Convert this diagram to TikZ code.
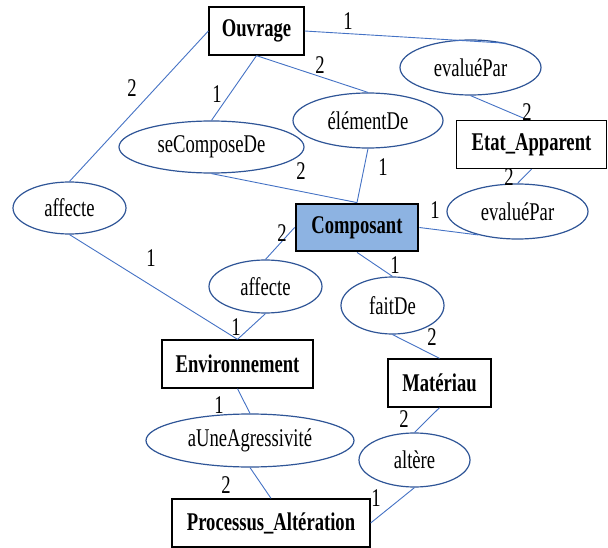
\documentclass[tikz,border=0pt]{standalone}
\usepackage{fontspec}
\setmainfont{Liberation Serif}[FakeStretch=0.73]
\usetikzlibrary{shapes.geometric}

\definecolor{linkblue}{HTML}{4472C4}
\definecolor{ovalblue}{HTML}{2F5597}
\definecolor{keyfill}{HTML}{8DB3E2}

\tikzset{
  entity/.style={draw=black, line width=1.3pt, fill=white, inner sep=0pt,
    minimum height=48pt, font=\fontsize{25.5}{29}\selectfont\bfseries},
  keyentity/.style={entity, line width=2.8pt, fill=keyfill},
  relation/.style={ellipse, draw=ovalblue, line width=1.2pt, fill=white, inner sep=0pt,
    font=\fontsize{25.5}{29}\selectfont},
  link/.style={draw=linkblue, line width=0.9pt},
  card/.style={inner sep=0pt, font=\fontsize{25.5}{29}\selectfont}
}

\begin{document}
\begin{tikzpicture}[x=1pt, y=-1pt]
\useasboundingbox (0,0) rectangle (608,548);

% entities
\node[entity, minimum width=95pt]  (ouv) at (256.5,31)  {Ouvrage};
\node[entity, minimum width=150pt] (eta) at (531.5,144.5) {Etat\_Apparent};
\node[keyentity, minimum width=122pt, minimum height=47pt] (comp) at (357,227.5) {Composant};
\node[entity, minimum width=151pt] (env) at (237.5,364) {Environnement};
\node[entity, minimum width=103pt] (mat) at (439.5,383) {Matériau};
\node[entity, minimum width=198pt, minimum height=48pt] (proc) at (271,523) {Processus\_Altération};

% relations
\node[relation, minimum width=141pt, minimum height=55pt] (evalT) at (470.5,67.5) {evaluéPar};
\node[relation, minimum width=150pt, minimum height=55pt] (elem)  at (368,120.5) {élémentDe};
\node[relation, minimum width=185pt, minimum height=52pt] (secomp) at (211.5,147) {seComposeDe};
\node[relation, minimum width=113pt, minimum height=52pt] (affL)  at (69.5,208) {affecte};
\node[relation, minimum width=141pt, minimum height=55pt] (evalR) at (517.5,211.5) {evaluéPar};
\node[relation, minimum width=113pt, minimum height=53pt] (affM)  at (265.5,286.5) {affecte};
\node[relation, minimum width=103pt, minimum height=57pt] (fait)  at (392.5,305.5) {faitDe};
\node[relation, minimum width=208pt, minimum height=53pt] (agr)   at (250,440.5) {aUneAgressivité};
\node[relation, minimum width=111pt, minimum height=54pt] (alt)   at (414.5,460) {altère};

% links between entities and relations
\draw[link] (ouv.west) -- (affL.north);
\draw[link] (ouv.south) -- (secomp.north);
\draw[link] (ouv.south) -- (elem.north);
\draw[link] (ouv.east) -- (evalT.34);
\draw[link] (evalT.south) -- ([xshift=-4pt]eta.north);
\draw[link] (eta.south) -- (evalR.north);
\draw[link] (comp.east) -- (evalR.211);
\draw[link] (elem.south) -- (comp.north);
\draw[link] (secomp.south) -- (comp.north);
\draw[link] (comp.west) -- (affM.north);
\draw[link] (comp.south) -- (fait.north);
\draw[link] (fait.south) -- (mat.north);
\draw[link] (affL.south) -- (env.north);
\draw[link] (affM.south) -- (env.north);
\draw[link] (env.south) -- (agr.north);
\draw[link] (agr.south) -- (proc.north);
\draw[link] (mat.south) -- (alt.north);
\draw[link] (alt.south) -- (proc.east);

% cardinalities
\node[card] (c1)  at (348,21)  {1};
\node[card] (c2)  at (320,65)  {2};
\node[card] (c3)  at (132,88)  {2};
\node[card] (c4)  at (217,94)  {1};
\node[card] (c5)  at (301,171) {2};
\node[card] (c6)  at (383,167) {1};
\node[card] (c7)  at (527,112) {2};
\node[card] (c8)  at (509,177) {2};
\node[card] (c9)  at (435,210) {1};
\node[card] (c10) at (282,233) {2};
\node[card] (c11) at (151,258) {1};
\node[card] (c12) at (236,327) {1};
\node[card] (c13) at (395,265) {1};
\node[card] (c14) at (432,337) {2};
\node[card] (c15) at (219,405) {1};
\node[card] (c16) at (226,485) {2};
\node[card] (c17) at (404,419) {2};
\node[card] (c18) at (376,498) {1};
\end{tikzpicture}
\end{document}
